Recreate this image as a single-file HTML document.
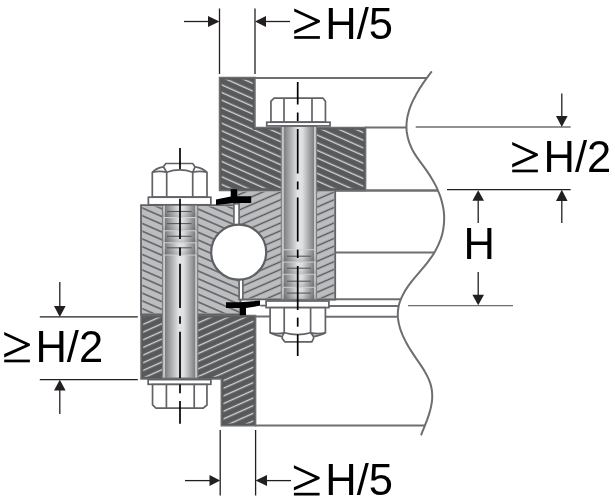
<!DOCTYPE html>
<html><head><meta charset="utf-8"><style>
html,body{margin:0;padding:0;background:#fff;}
svg{display:block;will-change:transform;}
</style></head><body>
<svg width="615" height="502" viewBox="0 0 615 502">
<defs>
<pattern id="hdA" width="20" height="7" patternUnits="userSpaceOnUse" patternTransform="rotate(24)">
<rect width="20" height="7" fill="#58595b"/><rect y="0.7" width="20" height="1.35" fill="#d4d5d7"/></pattern>
<pattern id="hdB" width="20" height="7" patternUnits="userSpaceOnUse" patternTransform="rotate(-24)">
<rect width="20" height="7" fill="#58595b"/><rect y="3.9" width="20" height="1.35" fill="#d4d5d7"/></pattern>
<pattern id="hlA" width="20" height="7.1" patternUnits="userSpaceOnUse" patternTransform="rotate(23.5)">
<rect width="20" height="7.1" fill="#bcbdbf"/><rect y="5.52" width="20" height="1.35" fill="#525357"/></pattern>
<pattern id="hlB" width="20" height="7.1" patternUnits="userSpaceOnUse" patternTransform="rotate(-23.5)">
<rect width="20" height="7.1" fill="#bcbdbf"/><rect y="3.3" width="20" height="1.35" fill="#525357"/></pattern>
<clipPath id="cUD"><polygon points="219.5,77.5 255,77.5 255,127.5 365.6,127.5 365.6,190.4 219.5,190.4"/></clipPath>
<clipPath id="cLD"><polygon points="141,315.4 255.6,315.4 255.6,425.8 221.3,425.8 221.3,379 141,379"/></clipPath>
<clipPath id="cLL"><polygon points="141,205.2 236.5,205.2 241,314.5 141,314.5"/></clipPath>
<clipPath id="cRL"><polygon points="236.5,190.4 335.2,190.4 335.2,299.5 241,299.5"/></clipPath>
<linearGradient id="shaft" x1="0" x2="1" y1="0" y2="0">
<stop offset="0" stop-color="#c2c3c5"/><stop offset="0.06" stop-color="#c8c9cb"/><stop offset="0.075" stop-color="#7d7e80"/><stop offset="0.47" stop-color="#e4e5e6"/><stop offset="0.6" stop-color="#dedfe0"/><stop offset="0.925" stop-color="#7e7f81"/><stop offset="0.94" stop-color="#c8c9cb"/><stop offset="1" stop-color="#c2c3c5"/></linearGradient>
<linearGradient id="thr" x1="0" x2="0" y1="0" y2="1"><stop offset="0" stop-color="#000" stop-opacity="0"/><stop offset="0.5" stop-color="#000" stop-opacity="0.03"/><stop offset="1" stop-color="#000" stop-opacity="0.16"/></linearGradient>
<clipPath id="leftOfCurve"><path d="M0,0 L431.7,0 L431.8,71.4 C431.0,72.4 428.7,75.4 427.3,77.4 C425.8,79.4 424.4,81.4 423.0,83.4 C421.7,85.4 420.4,87.4 419.1,89.4 C417.9,91.4 416.7,93.4 415.7,95.4 C414.6,97.4 413.6,99.4 412.6,101.4 C411.7,103.4 410.9,105.4 410.1,107.4 C409.4,109.4 408.8,111.4 408.3,113.4 C407.7,115.4 407.3,117.4 407.0,119.4 C406.7,121.4 406.5,123.4 406.5,125.4 C406.4,127.4 406.5,129.4 406.7,131.4 C407.0,133.4 407.3,135.4 407.8,137.4 C408.3,139.4 408.9,141.4 409.6,143.4 C410.4,145.4 411.2,147.4 412.2,149.4 C413.3,151.4 414.4,153.4 415.7,155.4 C417.0,157.4 418.5,159.4 419.9,161.4 C421.3,163.4 422.9,165.4 424.3,167.4 C425.8,169.4 427.2,171.4 428.5,173.4 C429.9,175.4 431.1,177.4 432.3,179.4 C433.5,181.4 434.6,183.4 435.6,185.4 C436.6,187.4 437.5,189.4 438.3,191.4 C439.2,193.4 439.9,195.4 440.6,197.4 C441.2,199.4 441.8,201.4 442.3,203.4 C442.8,205.4 443.2,207.4 443.5,209.4 C443.8,211.4 444.0,213.4 444.1,215.4 C444.2,217.4 444.2,219.4 444.1,221.4 C444.0,223.4 443.8,225.4 443.5,227.4 C443.3,229.4 442.9,231.4 442.4,233.4 C441.9,235.4 441.3,237.4 440.6,239.4 C439.8,241.4 439.0,243.4 438.1,245.4 C437.2,247.4 436.1,249.4 435.0,251.4 C433.9,253.4 432.6,255.4 431.2,257.4 C429.8,259.4 428.3,261.4 426.8,263.4 C425.2,265.4 423.5,267.4 421.8,269.4 C420.1,271.4 418.4,273.4 416.7,275.4 C415.0,277.4 413.3,279.4 411.7,281.4 C410.2,283.4 408.6,285.4 407.3,287.4 C405.9,289.4 404.7,291.4 403.6,293.4 C402.5,295.4 401.5,297.4 400.8,299.4 C400.0,301.4 399.3,303.4 398.8,305.4 C398.4,307.4 398.1,309.4 397.9,311.4 C397.8,313.4 397.8,315.4 397.9,317.4 C398.1,319.4 398.4,321.4 398.8,323.4 C399.2,325.4 399.8,327.4 400.4,329.4 C401.1,331.4 401.9,333.4 402.7,335.4 C403.6,337.4 404.6,339.4 405.6,341.4 C406.7,343.4 407.8,345.4 409.0,347.4 C410.2,349.4 411.5,351.4 412.8,353.4 C414.1,355.4 415.5,357.4 416.8,359.4 C418.2,361.4 419.6,363.4 420.9,365.4 C422.2,367.4 423.6,369.4 424.7,371.4 C425.9,373.4 427.0,375.4 427.9,377.4 C428.9,379.4 429.6,381.4 430.3,383.4 C430.9,385.4 431.4,387.4 431.7,389.4 C432.0,391.4 432.2,393.4 432.2,395.4 C432.3,397.4 432.2,399.4 431.9,401.4 C431.7,403.4 431.3,405.4 430.9,407.4 C430.5,409.4 429.9,411.4 429.3,413.4 C428.7,415.4 428.0,417.4 427.3,419.4 C426.5,421.4 425.7,423.4 425.0,425.4 C424.2,427.4 423.2,429.8 422.5,431.4 C421.9,433.0 421.3,434.6 421.0,435.2 L421,502 L0,502 Z"/></clipPath>
</defs>

<!-- structure lines clipped by break curve -->
<g clip-path="url(#leftOfCurve)" stroke="#6d6e71" stroke-width="2" fill="none">
<line x1="255" y1="78" x2="460" y2="78"/>
<line x1="365" y1="127.4" x2="460" y2="127.4"/>
<line x1="336" y1="190.5" x2="460" y2="190.5" stroke-width="2.4"/>
<line x1="336" y1="252.5" x2="460" y2="252.5"/>
<line x1="329" y1="299.3" x2="460" y2="299.3"/>
<line x1="329" y1="306" x2="460" y2="306"/>
<line x1="326" y1="316.8" x2="460" y2="316.8"/>
<line x1="255" y1="316.6" x2="270" y2="316.6"/>
<line x1="255" y1="425.5" x2="460" y2="425.5"/>
</g>
<path d="M431.8,71.4 C431.0,72.4 428.7,75.4 427.3,77.4 C425.8,79.4 424.4,81.4 423.0,83.4 C421.7,85.4 420.4,87.4 419.1,89.4 C417.9,91.4 416.7,93.4 415.7,95.4 C414.6,97.4 413.6,99.4 412.6,101.4 C411.7,103.4 410.9,105.4 410.1,107.4 C409.4,109.4 408.8,111.4 408.3,113.4 C407.7,115.4 407.3,117.4 407.0,119.4 C406.7,121.4 406.5,123.4 406.5,125.4 C406.4,127.4 406.5,129.4 406.7,131.4 C407.0,133.4 407.3,135.4 407.8,137.4 C408.3,139.4 408.9,141.4 409.6,143.4 C410.4,145.4 411.2,147.4 412.2,149.4 C413.3,151.4 414.4,153.4 415.7,155.4 C417.0,157.4 418.5,159.4 419.9,161.4 C421.3,163.4 422.9,165.4 424.3,167.4 C425.8,169.4 427.2,171.4 428.5,173.4 C429.9,175.4 431.1,177.4 432.3,179.4 C433.5,181.4 434.6,183.4 435.6,185.4 C436.6,187.4 437.5,189.4 438.3,191.4 C439.2,193.4 439.9,195.4 440.6,197.4 C441.2,199.4 441.8,201.4 442.3,203.4 C442.8,205.4 443.2,207.4 443.5,209.4 C443.8,211.4 444.0,213.4 444.1,215.4 C444.2,217.4 444.2,219.4 444.1,221.4 C444.0,223.4 443.8,225.4 443.5,227.4 C443.3,229.4 442.9,231.4 442.4,233.4 C441.9,235.4 441.3,237.4 440.6,239.4 C439.8,241.4 439.0,243.4 438.1,245.4 C437.2,247.4 436.1,249.4 435.0,251.4 C433.9,253.4 432.6,255.4 431.2,257.4 C429.8,259.4 428.3,261.4 426.8,263.4 C425.2,265.4 423.5,267.4 421.8,269.4 C420.1,271.4 418.4,273.4 416.7,275.4 C415.0,277.4 413.3,279.4 411.7,281.4 C410.2,283.4 408.6,285.4 407.3,287.4 C405.9,289.4 404.7,291.4 403.6,293.4 C402.5,295.4 401.5,297.4 400.8,299.4 C400.0,301.4 399.3,303.4 398.8,305.4 C398.4,307.4 398.1,309.4 397.9,311.4 C397.8,313.4 397.8,315.4 397.9,317.4 C398.1,319.4 398.4,321.4 398.8,323.4 C399.2,325.4 399.8,327.4 400.4,329.4 C401.1,331.4 401.9,333.4 402.7,335.4 C403.6,337.4 404.6,339.4 405.6,341.4 C406.7,343.4 407.8,345.4 409.0,347.4 C410.2,349.4 411.5,351.4 412.8,353.4 C414.1,355.4 415.5,357.4 416.8,359.4 C418.2,361.4 419.6,363.4 420.9,365.4 C422.2,367.4 423.6,369.4 424.7,371.4 C425.9,373.4 427.0,375.4 427.9,377.4 C428.9,379.4 429.6,381.4 430.3,383.4 C430.9,385.4 431.4,387.4 431.7,389.4 C432.0,391.4 432.2,393.4 432.2,395.4 C432.3,397.4 432.2,399.4 431.9,401.4 C431.7,403.4 431.3,405.4 430.9,407.4 C430.5,409.4 429.9,411.4 429.3,413.4 C428.7,415.4 428.0,417.4 427.3,419.4 C426.5,421.4 425.7,423.4 425.0,425.4 C424.2,427.4 423.2,429.8 422.5,431.4 C421.9,433.0 421.3,434.6 421.0,435.2" stroke="#6d6e71" stroke-width="2" fill="none"/>

<!-- upper dark flange -->
<g clip-path="url(#cUD)"><rect x="200" y="60" width="200" height="150" fill="url(#hdA)"/>
<polygon points="219.5,77.5 255,77.5 255,127.5 365.6,127.5 365.6,190.4 219.5,190.4" fill="none" stroke="#58595b" stroke-width="4.4"/></g>
<polygon points="219.5,77.5 255,77.5 255,127.5 365.6,127.5 365.6,190.4 219.5,190.4" fill="none" stroke="#6d6e71" stroke-width="1.5"/>
<!-- lower dark flange -->
<g clip-path="url(#cLD)"><rect x="130" y="300" width="150" height="140" fill="url(#hdB)"/>
<polygon points="141,315.4 255.6,315.4 255.6,425.8 221.3,425.8 221.3,379 141,379" fill="none" stroke="#58595b" stroke-width="4.4"/></g>
<polygon points="141,315.4 255.6,315.4 255.6,425.8 221.3,425.8 221.3,379 141,379" fill="none" stroke="#6d6e71" stroke-width="1.5"/>
<!-- light blocks -->
<g clip-path="url(#cLL)"><rect x="130" y="190" width="130" height="140" fill="url(#hlA)"/>
<polygon points="141,205.2 236.5,205.2 241,314.5 141,314.5" fill="none" stroke="#bcbdbf" stroke-width="2.6"/></g>
<polygon points="141,205.2 236.5,205.2 241,314.5 141,314.5" fill="none" stroke="#626366" stroke-width="1.8"/>
<g clip-path="url(#cRL)"><rect x="220" y="180" width="130" height="130" fill="url(#hlB)"/>
<polygon points="236.5,190.4 335.2,190.4 335.2,299.5 241,299.5" fill="none" stroke="#bcbdbf" stroke-width="2.6"/></g>
<polygon points="236.5,190.4 335.2,190.4 335.2,299.5 241,299.5" fill="none" stroke="#626366" stroke-width="1.8"/>
<!-- slits -->
<rect x="233.9" y="203.8" width="5.2" height="22" fill="#fff" stroke="#6d6e71" stroke-width="1.8"/>
<rect x="239.1" y="276" width="3.8" height="23.5" fill="#fff" stroke="#6d6e71" stroke-width="1.8"/>
<!-- circle -->
<circle cx="238.7" cy="252.2" r="27.5" fill="#fff" stroke="#5f6063" stroke-width="2.2"/>

<!-- black T symbols -->
<path d="M216,199.5 L230.7,196.5 L230.7,189.3 L237.1,189.3 L237.1,196.3 L251.2,196.3 L251.2,203 L237.1,203 L230.7,203.5 L216,205 Z" fill="#000"/>
<path d="M226,302.2 L239.7,302.2 L260.8,300.5 L260.8,305.6 L246,308 L246,315.3 L239.7,315.3 L239.7,308 L226,308 Z" fill="#000"/>

<!-- upper bolt -->
<rect x="281.3" y="126.2" width="35.2" height="173.3" fill="url(#shaft)" stroke="#7d7e80" stroke-width="1.1"/>
<rect x="282" y="249.7" width="34" height="12.3" fill="url(#thr)"/><rect x="282" y="262" width="34" height="12.3" fill="url(#thr)"/><rect x="282" y="274.3" width="34" height="13.0" fill="url(#thr)"/><rect x="282" y="287.3" width="34" height="12.2" fill="url(#thr)"/>
<g stroke="#cfd0d2" stroke-width="1.1">
<line x1="283" y1="249.7" x2="315.5" y2="249.7"/><line x1="283" y1="262" x2="315.5" y2="262"/><line x1="283" y1="274.3" x2="315.5" y2="274.3"/><line x1="283" y1="287.3" x2="315.5" y2="287.3"/></g>
<g stroke="#58595b" stroke-width="1.1">
<line x1="287" y1="256.2" x2="311" y2="256.2"/><line x1="287" y1="268.2" x2="311" y2="268.2"/><line x1="287" y1="281.2" x2="311" y2="281.2"/><line x1="287" y1="293.1" x2="311" y2="293.1"/></g>
<g fill="#fff" stroke="#616265" stroke-width="1.7">
<path d="M270.95,122.2 V101.2 L274.2,98.05 H322.8 L325.45,101.2 V122.2 Z"/>
<line x1="284" y1="98" x2="284" y2="122"/><line x1="312" y1="98" x2="312" y2="122"/>
<rect x="266.75" y="122.2" width="63.3" height="3.7"/>
<rect x="260" y="300.4" width="6.5" height="5.2" stroke="none"/><line x1="260.3" y1="305.6" x2="266.5" y2="305.6"/>
<rect x="266.1" y="301" width="62.8" height="6.6"/>
<path d="M270.1,307.6 V332.8 Q275,335.5 282.2,336.6 V338.4 L284.8,341.8 H311.8 L313.6,338.4 V336.6 Q321,335.5 325.4,332.8 V307.6 Z"/>
<path d="M270.1,332.8 Q277,334.5 284.2,332.8 Q297.7,336.5 310.6,332.8 Q318,334.5 325.4,332.8" fill="none"/>
<path d="M282.2,336.4 L284.2,332.6 M313.6,336.4 L310.6,332.6" fill="none"/>
<line x1="284.2" y1="307.6" x2="284.2" y2="332.8"/><line x1="310.6" y1="307.6" x2="310.6" y2="332.8"/>
</g>

<!-- lower bolt -->
<rect x="162.5" y="204" width="35.2" height="174" fill="url(#shaft)" stroke="#7d7e80" stroke-width="1.1"/>
<rect x="163" y="204.5" width="34" height="13.0" fill="url(#thr)"/><rect x="163" y="217.5" width="34" height="13.3" fill="url(#thr)"/><rect x="163" y="230.8" width="34" height="11.9" fill="url(#thr)"/><rect x="163" y="242.7" width="34" height="12.3" fill="url(#thr)"/>
<g stroke="#cfd0d2" stroke-width="1.1">
<line x1="163.5" y1="217.5" x2="196" y2="217.5"/><line x1="163.5" y1="230.8" x2="196" y2="230.8"/><line x1="163.5" y1="242.7" x2="196" y2="242.7"/><line x1="163.5" y1="255" x2="196" y2="255"/></g>
<g stroke="#58595b" stroke-width="1.1">
<line x1="167" y1="211.5" x2="191.6" y2="211.5"/><line x1="167" y1="223.6" x2="191.6" y2="223.6"/><line x1="167" y1="236.3" x2="191.6" y2="236.3"/><line x1="167" y1="247.8" x2="191.6" y2="247.8"/></g>
<g fill="#fff" stroke="#616265" stroke-width="1.7">
<path d="M152.3,197.2 V172.3 Q156,168 163.4,166.8 L165.8,163.5 H192.6 L195,166.8 Q203,168 207,172.3 V197.2 Z"/>
<path d="M152.3,172.3 Q159.5,170.3 166.7,172.3 Q179.7,167.6 192.7,172.3 Q199.9,170.3 207,172.3" fill="none"/>
<path d="M163.4,166.8 L166.7,172.3 M195,166.8 L192.7,172.3" fill="none"/>
<line x1="166.7" y1="172.3" x2="166.7" y2="197"/><line x1="192.7" y1="172.3" x2="192.7" y2="197"/>
<rect x="148.35" y="197.2" width="62.5" height="7.6"/>
<rect x="148.15" y="379.6" width="62.7" height="4.7"/>
<path d="M152.55,384.5 V405 L156,408.15 H203.2 L206.95,405 V384.5 Z"/>
<line x1="166.4" y1="384.5" x2="166.4" y2="408"/><line x1="194.2" y1="384.5" x2="194.2" y2="408"/>
</g>

<!-- centerlines -->
<g stroke="#000" stroke-width="1.7">
<line x1="297.7" y1="82" x2="297.7" y2="104.5"/><line x1="297.7" y1="112.5" x2="297.7" y2="121"/>
<line x1="297.7" y1="129" x2="297.7" y2="173.5"/><line x1="297.7" y1="181.5" x2="297.7" y2="189.5"/>
<line x1="297.7" y1="197.5" x2="297.7" y2="241.5"/><line x1="297.7" y1="249.7" x2="297.7" y2="258"/>
<line x1="297.7" y1="266" x2="297.7" y2="310"/><line x1="297.7" y1="317.6" x2="297.7" y2="326.7"/>
<line x1="297.7" y1="334.4" x2="297.7" y2="356"/>
<line x1="180" y1="148" x2="180" y2="169"/>
<line x1="180" y1="198.7" x2="180" y2="239"/><line x1="180" y1="247.5" x2="180" y2="255.8"/>
<line x1="180" y1="263.7" x2="180" y2="308"/><line x1="180" y1="316.3" x2="180" y2="323.8"/>
<line x1="180" y1="331.8" x2="180" y2="378"/><line x1="180" y1="384.4" x2="180" y2="393.2"/>
<line x1="180" y1="401.1" x2="180" y2="423.8"/>
</g>

<!-- dimensions -->
<g stroke="#231f20" stroke-width="1.3" fill="none">
<line x1="219.5" y1="8.5" x2="219.5" y2="74"/><line x1="255" y1="8.5" x2="255" y2="74"/>
<line x1="184" y1="21.5" x2="209" y2="21.5"/><line x1="265" y1="21.5" x2="290" y2="21.5"/>
<line x1="220.2" y1="430" x2="220.2" y2="495.5"/><line x1="255.6" y1="430" x2="255.6" y2="495.5"/>
<line x1="185" y1="480.6" x2="210" y2="480.6"/><line x1="266" y1="480.6" x2="291" y2="480.6"/>
<line x1="415.7" y1="127" x2="570.7" y2="127" stroke="#6d6e71"/>
<line x1="447" y1="189.7" x2="570.7" y2="189.7"/>
<line x1="561.8" y1="93.5" x2="561.8" y2="117"/><line x1="561.8" y1="200" x2="561.8" y2="223"/>
<line x1="478.2" y1="200" x2="478.2" y2="223"/><line x1="478.2" y1="272" x2="478.2" y2="295"/>
<line x1="408" y1="305.6" x2="513" y2="305.6" stroke="#6d6e71"/>
<line x1="39.8" y1="316.9" x2="137.8" y2="316.9"/><line x1="39.8" y1="379.7" x2="137.8" y2="379.7"/>
<line x1="59.8" y1="282" x2="59.8" y2="306"/><line x1="59.8" y1="390" x2="59.8" y2="414"/>
</g>
<g fill="#231f20">
<polygon points="208,16 219.5,21.5 208,27"/><polygon points="255,21.5 266,16 266,27"/>
<polygon points="209.5,475 220.2,480.6 209.5,486"/><polygon points="255.6,480.6 267,475 267,486"/>
<polygon points="556,116 561.8,127 567.6,116"/><polygon points="556,201 561.8,189.7 567.6,201"/>
<polygon points="472.4,200.7 478.2,190.3 484,200.7"/><polygon points="472.4,294.8 478.2,305.3 484,294.8"/>
<polygon points="54,306 59.8,316.9 65.6,306"/><polygon points="54,390.5 59.8,379.7 65.6,390.5"/>
</g>

<!-- text -->
<g fill="#000" font-family="Liberation Sans" font-size="43.5">
<text x="325.3" y="38.5">H/5</text>
<text x="325.3" y="495.2">H/5</text>
<text x="543.5" y="172">H/2</text>
<text x="35.4" y="362">H/2</text>
<text x="463.4" y="259">H</text>
</g>
<g fill="#000">
<polygon points="294.2,8.5 319.9,20.3 319.9,22.2 294.2,33.9 294.2,30.5 315.4,21.3 294.2,11.6"/><rect x="294.2" y="36.1" width="25.7" height="2.7"/>
<polygon points="293.9,465.2 319.6,477.0 319.6,478.9 293.9,490.6 293.9,487.2 315.1,478.0 293.9,468.3"/><rect x="293.9" y="492.8" width="25.7" height="2.7"/>
<polygon points="512.2,142.0 537.9,153.8 537.9,155.7 512.2,167.4 512.2,164.0 533.4,154.8 512.2,145.1"/><rect x="512.2" y="169.6" width="25.7" height="2.7"/>
<polygon points="4.2,332.0 29.9,343.8 29.9,345.7 4.2,357.4 4.2,354.0 25.4,344.8 4.2,335.1"/><rect x="4.2" y="359.6" width="25.7" height="2.7"/>
</g>
</svg>
</body></html>
